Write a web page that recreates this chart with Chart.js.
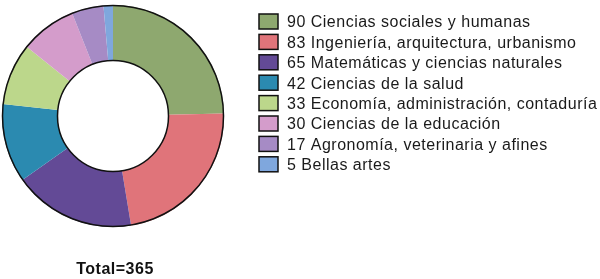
<!DOCTYPE html>
<html>
<head>
<meta charset="utf-8">
<script src="https://cdn.jsdelivr.net/npm/chart.js@4.4.0/dist/chart.umd.min.js"></script>
<style>
  html, body { margin: 0; padding: 0; background: #fff; }
  #wrap { width: 600px; height: 279px; position: relative; }
</style>
</head>
<body>
<div id="wrap"><canvas id="chart"></canvas></div>
<script>
// data
const areas = [
  "Ciencias sociales y humanas",
  "Ingeniería, arquitectura, urbanismo",
  "Matemáticas y ciencias naturales",
  "Ciencias de la salud",
  "Economía, administración, contaduría",
  "Ciencias de la educación",
  "Agronomía, veterinaria y afines",
  "Bellas artes"
];
const counts = [90, 83, 65, 42, 33, 30, 17, 5];
const colors = ["#8ea86f", "#e0747a", "#634a96", "#2b8ab0", "#bcd78b", "#d49ccb", "#a68bc5", "#7fa7dd"];

const FONT = "'Liberation Sans', Arial, sans-serif";

// outer + inner rings only (no lines between slices)
const ringPlugin = {
  id: 'ring',
  afterDatasetsDraw(chart) {
    const arc = chart.getDatasetMeta(0).data[0];
    if (!arc) return;
    const ctx = chart.ctx;
    ctx.save();
    ctx.strokeStyle = '#111';
    ctx.lineWidth = 1.5;
    ctx.beginPath();
    ctx.arc(arc.x, arc.y, arc.outerRadius - 0.5, 0, Math.PI * 2);
    ctx.stroke();
    ctx.beginPath();
    ctx.arc(arc.x, arc.y, arc.innerRadius, 0, Math.PI * 2);
    ctx.stroke();
    ctx.restore();
  }
};

// legend on the right + total under the donut
const sideLegend = {
  id: 'sideLegend',
  afterDraw(chart) {
    const ctx = chart.ctx;
    const area = chart.chartArea;
    const x0 = area.right + 35;
    const y0 = 14;
    const step = 20.4;
    ctx.save();
    ctx.font = '16px ' + FONT;
    ctx.letterSpacing = '0.5px';
    ctx.textBaseline = 'middle';
    ctx.textAlign = 'left';
    areas.forEach((name, i) => {
      const y = y0 + i * step;
      ctx.fillStyle = colors[i];
      ctx.fillRect(x0, y, 19, 15);
      ctx.strokeStyle = '#111';
      ctx.lineWidth = 1.5;
      ctx.strokeRect(x0, y, 19, 15);
      ctx.fillStyle = '#1a1a1a';
      ctx.fillText(counts[i] + ' ' + name, x0 + 28, y + 9);
    });

    const arc = chart.getDatasetMeta(0).data[0];
    const total = counts.reduce((a, b) => a + b, 0);
    ctx.font = 'bold 16px ' + FONT;
    ctx.textAlign = 'center';
    ctx.fillStyle = '#111';
    ctx.fillText('Total=' + total, arc.x + 2, chart.height - 9);
    ctx.restore();
  }
};

new Chart(document.getElementById('chart'), {
  type: 'doughnut',
  data: {
    labels: areas,
    datasets: [{
      data: counts,
      backgroundColor: colors,
      borderWidth: 0
    }]
  },
  options: {
    responsive: true,
    maintainAspectRatio: false,
    animation: false,
    cutout: '50%',
    layout: { padding: { left: 2, right: 376, top: 4, bottom: 51 } },
    plugins: {
      legend: { display: false },
      tooltip: { enabled: false }
    }
  },
  plugins: [ringPlugin, sideLegend]
});
</script>
</body>
</html>
